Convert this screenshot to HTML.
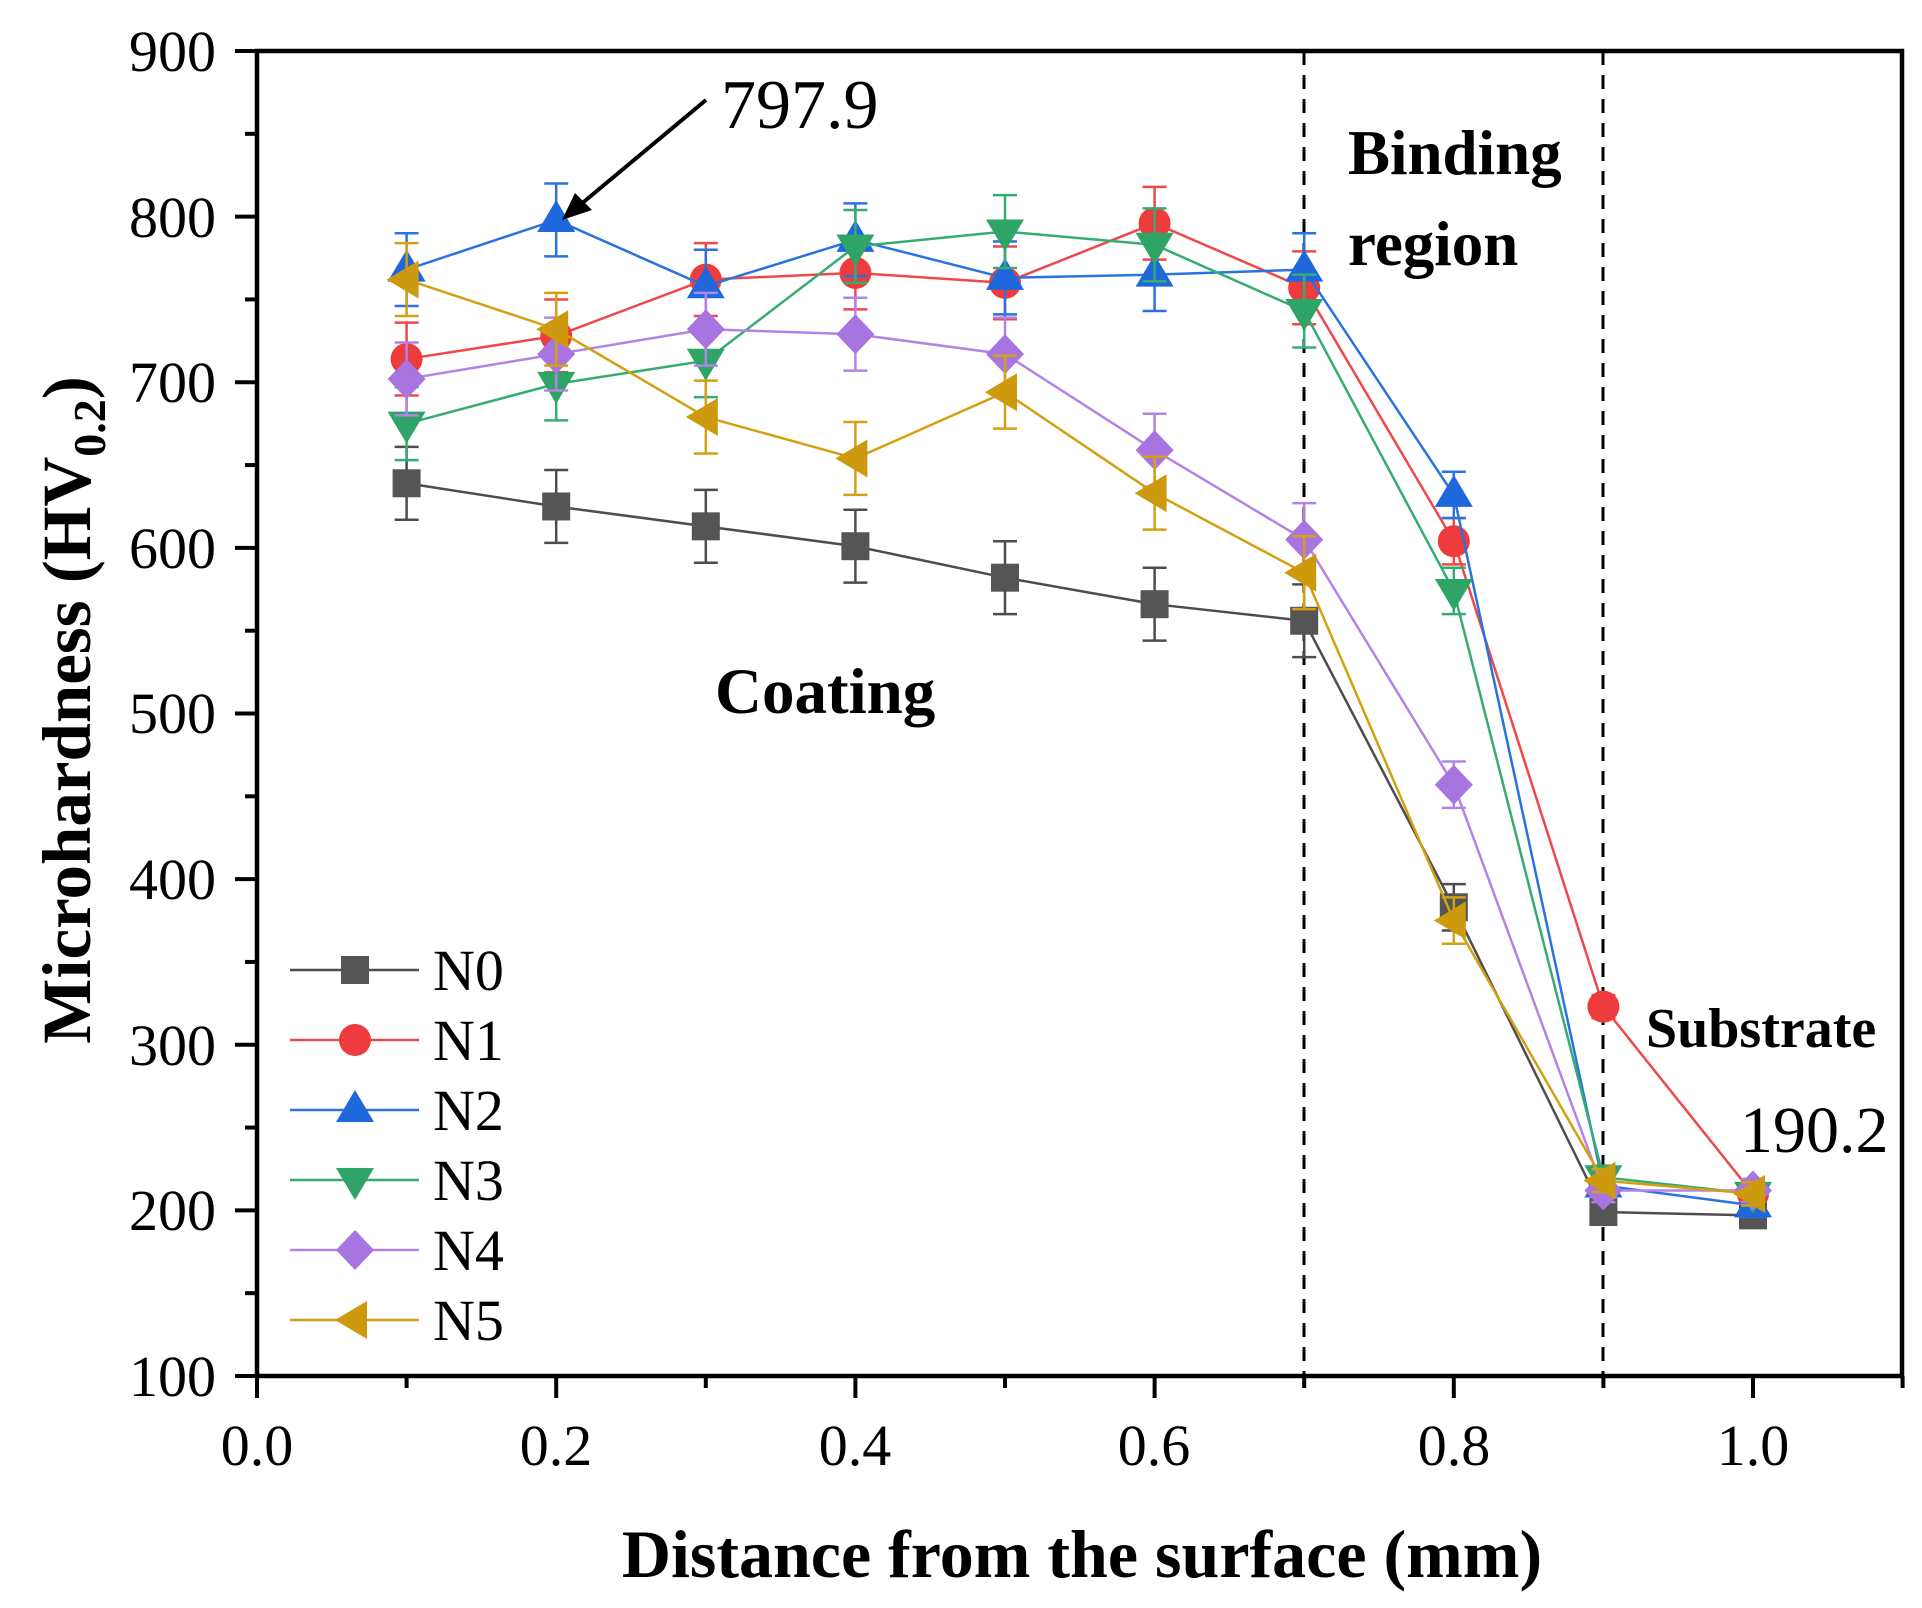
<!DOCTYPE html>
<html><head><meta charset="utf-8"><style>
html,body{margin:0;padding:0;background:#fff;}
svg{display:block;}
text{font-family:"Liberation Serif",serif;fill:#000;}
</style></head><body>
<svg id="s" width="1922" height="1608" viewBox="0 0 1922 1608" xmlns="http://www.w3.org/2000/svg">
<rect x="0" y="0" width="1922" height="1608" fill="#fff"/>
<g id="ticks" stroke="#000" stroke-width="4"></g>
<line x1="1304" y1="51" x2="1304" y2="1376" stroke="#000" stroke-width="3" stroke-dasharray="14,10"/>
<line x1="1603" y1="51" x2="1603" y2="1376" stroke="#000" stroke-width="3" stroke-dasharray="14,10"/>
<g id="data"></g>
<rect x="257" y="51" width="1645" height="1325" fill="none" stroke="#000" stroke-width="4.5"/>
<g font-size="58" text-anchor="end">
<text x="216" y="71">900</text><text x="216" y="237">800</text><text x="216" y="402">700</text>
<text x="216" y="568">600</text><text x="216" y="733">500</text><text x="216" y="899">400</text>
<text x="216" y="1065">300</text><text x="216" y="1230">200</text><text x="216" y="1396">100</text>
</g>
<g font-size="58" text-anchor="middle">
<text x="257" y="1465">0.0</text><text x="556" y="1465">0.2</text><text x="855" y="1465">0.4</text>
<text x="1154" y="1465">0.6</text><text x="1454" y="1465">0.8</text><text x="1753" y="1465">1.0</text>
</g>
<text x="1082" y="1577" font-size="68" font-weight="bold" text-anchor="middle">Distance from the surface (mm)</text>
<text transform="translate(90,710) rotate(-90)" font-size="69" font-weight="bold" text-anchor="middle">Microhardness (HV<tspan font-size="46" dy="15">0.2</tspan><tspan dy="-15">)</tspan></text>
<text x="721" y="128" font-size="70">797.9</text>
<line x1="706" y1="100" x2="580" y2="205" stroke="#000" stroke-width="4"/>
<polygon points="562,220 575,193 592,210" fill="#000"/>
<text x="1348" y="174" font-size="63" font-weight="bold">Binding</text>
<text x="1348" y="265" font-size="63" font-weight="bold">region</text>
<text x="715" y="713" font-size="65" font-weight="bold">Coating</text>
<text x="1646" y="1047" font-size="56" font-weight="bold">Substrate</text>
<text x="1740" y="1152" font-size="66">190.2</text>
<g id="leg"></g>
<g font-size="58">
<text x="433" y="990">N0</text><text x="433" y="1060">N1</text><text x="433" y="1130">N2</text>
<text x="433" y="1200">N3</text><text x="433" y="1270">N4</text><text x="433" y="1340">N5</text>
</g>
</svg>
<script>
var NS="http://www.w3.org/2000/svg";
function el(p,t,a){var e=document.createElementNS(NS,t);for(var k in a)e.setAttribute(k,a[k]);p.appendChild(e);return e;}
var X=function(v){return 257+v*1496;},Y=function(v){return 1376-(v-100)*1.65625;};
var tk=document.getElementById('ticks');
for(var v=100;v<=900;v+=50){var L=(v%100==0)?22:12;el(tk,'line',{x1:257-L,y1:Y(v),x2:257,y2:Y(v)});}
for(var i=0;i<=11;i++){var L=(i%2==0)?22:12;el(tk,'line',{x1:X(i/10),y1:1376,x2:X(i/10),y2:1376+L});}
var S=[
['#4d4d4d','#555','sq',[639,625,613,601,582,566,556,383,199,197]],
['#f04848','#ee3b3b','ci',[714,728,762,766,760,796,757,604,323,210]],
['#2a72e0','#1e68dc','up',[768,798,758,786,763,765,768,632,215,203]],
['#36ad70','#2ea566','dn',[675,699,713,782,791,783,743,574,220,210]],
['#b383e6','#a874e0','di',[702,717,732,729,717,659,605,457,212,212]],
['#d4a012','#cc9a0c','lt',[762,732,679,654,694,633,585,375,218,210]]];
var g=document.getElementById('data'),lg=document.getElementById('leg');
function mk(p,t,x,y,c){
 if(t=='sq')el(p,'rect',{x:x-14,y:y-14,width:28,height:28,fill:c});
 else if(t=='ci')el(p,'circle',{cx:x,cy:y,r:16,fill:c});
 else if(t=='up')el(p,'polygon',{points:(x)+','+(y-20)+' '+(x-19)+','+(y+12)+' '+(x+19)+','+(y+12),fill:c});
 else if(t=='dn')el(p,'polygon',{points:(x)+','+(y+20)+' '+(x-19)+','+(y-12)+' '+(x+19)+','+(y-12),fill:c});
 else if(t=='di')el(p,'polygon',{points:x+','+(y-20)+' '+(x+19)+','+y+' '+x+','+(y+20)+' '+(x-19)+','+y,fill:c});
 else el(p,'polygon',{points:(x-20)+','+y+' '+(x+12)+','+(y-19)+' '+(x+12)+','+(y+19),fill:c});}
S.forEach(function(s,k){
 var pts=s[3].map(function(v,i){return X((i+1)/10)+','+Y(v);}).join(' ');
 el(g,'polyline',{points:pts,fill:'none',stroke:s[0],'stroke-width':2.5});
 s[3].forEach(function(v,i){var x=X((i+1)/10),y=Y(v),e=(i>=8?7:(i==7?14:22))*1.656;
  el(g,'line',{x1:x,y1:y-e,x2:x,y2:y+e,stroke:s[0],'stroke-width':2.5});
  el(g,'line',{x1:x-12,y1:y-e,x2:x+12,y2:y-e,stroke:s[0],'stroke-width':2.5});
  el(g,'line',{x1:x-12,y1:y+e,x2:x+12,y2:y+e,stroke:s[0],'stroke-width':2.5});});
 s[3].forEach(function(v,i){mk(g,s[2],X((i+1)/10),Y(v),s[1]);});
 var ly=970+70*k;
 el(lg,'line',{x1:290,y1:ly,x2:419,y2:ly,stroke:s[0],'stroke-width':2.5});
 mk(lg,s[2],355,ly,s[1]);
});
</script>
</body></html>
